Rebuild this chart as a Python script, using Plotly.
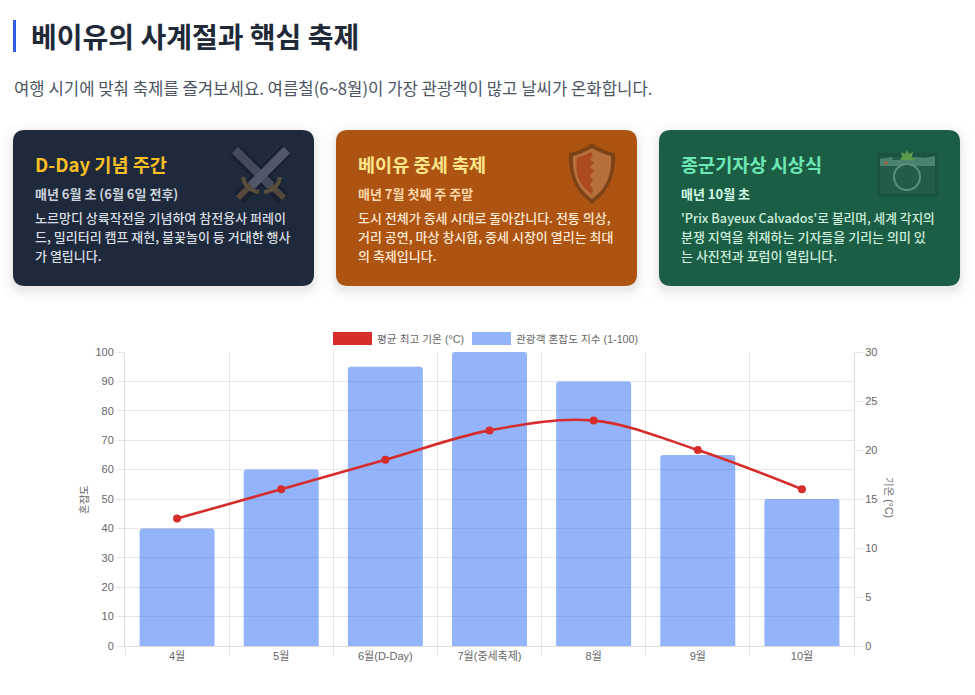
import plotly.graph_objects as go

# 차트 데이터
months = ['4월', '5월', '6월(D-Day)', '7월(중세축제)', '8월', '9월', '10월']
crowd = [40, 60, 95, 100, 90, 65, 50]
temps = [13, 16, 19, 22, 23, 20, 16]
crowd_ticks = [0, 10, 20, 30, 40, 50, 60, 70, 80, 90, 100]
temp_ticks = [0, 5, 10, 15, 20, 25, 30]
crowd_name = '관광객 혼잡도 지수 (1-100)'
temp_name = '평균 최고 기온 (°C)'

# 본문 텍스트
page_title = '베이유의 사계절과 핵심 축제'
page_sub = '여행 시기에 맞춰 축제를 즐겨보세요. 여름철(6~8월)이 가장 관광객이 많고 날씨가 온화합니다.'
card_titles = ['D-Day 기념 주간', '베이유 중세 축제', '종군기자상 시상식']
card_dates = ['매년 6월 초 (6월 6일 전후)', '매년 7월 첫째 주 주말', '매년 10월 초']
card_lines = [
    ['노르망디 상륙작전을 기념하여 참전용사 퍼레이', '드, 밀리터리 캠프 재현, 불꽃놀이 등 거대한 행사', '가 열립니다.'],
    ['도시 전체가 중세 시대로 돌아갑니다. 전통 의상,', '거리 공연, 마상 창시합, 중세 시장이 열리는 최대', '의 축제입니다.'],
    ["'Prix Bayeux Calvados'로 불리며, 세계 각지의", '분쟁 지역을 취재하는 기자들을 기리는 의미 있', '는 사진전과 포럼이 열립니다.'],
]
card_left = [13, 336, 659]
card_colors = ['#1e293b', '#ad5413', '#1c5e45']
title_colors = ['#fbbf24', '#fde68a', '#6ee7b7']
date_colors = ['#cdd2da', '#fed7aa', '#d1fae5']
body_colors = ['#d8dce3', '#fde8d0', '#cdeedd']

KR = 'Noto Sans CJK KR'
CHART = 'Liberation Sans, Noto Sans CJK KR'
BAR_COLOR = 'rgba(40,105,245,0.5)'

# 플롯 영역 (픽셀)
L, R, T, B = 125, 854, 352, 646


def px(x):
    return (x - L) / (R - L)


def py(y):
    return (B - y) / (B - T)


def pt(x, y):
    return f'{px(x):.5f},{py(y):.5f}'


def poly(points):
    return 'M' + ' L'.join(pt(x, y) for x, y in points) + ' Z'


def round_rect(x0, y0, x1, y1, r):
    return (f'M{pt(x0 + r, y0)} L{pt(x1 - r, y0)} Q{pt(x1, y0)} {pt(x1, y0 + r)} '
            f'L{pt(x1, y1 - r)} Q{pt(x1, y1)} {pt(x1 - r, y1)} '
            f'L{pt(x0 + r, y1)} Q{pt(x0, y1)} {pt(x0, y1 - r)} '
            f'L{pt(x0, y0 + r)} Q{pt(x0, y0)} {pt(x0 + r, y0)} Z')


shapes = []
notes = []


def path(d, fill, layer='below', line=None, width=0, opacity=1):
    shapes.append(dict(type='path', xref='paper', yref='paper', path=d, fillcolor=fill, layer=layer,
                       line=dict(color=line or 'rgba(0,0,0,0)', width=width), opacity=opacity))


def seg(x0, y0, x1, y1, color, width):
    shapes.append(dict(type='line', xref='paper', yref='paper', x0=px(x0), y0=py(y0), x1=px(x1), y1=py(y1),
                       layer='below', line=dict(color=color, width=width)))


def text(x, y, s, size, color, weight=400, anchor='left', angle=0, family=KR):
    notes.append(dict(xref='paper', yref='paper', x=px(x), y=py(y), text=s, showarrow=False, xanchor=anchor,
                      yanchor='middle', textangle=angle, borderpad=0,
                      font=dict(family=family, size=size, color=color, weight=weight)))


# 제목 부분
path(round_rect(13, 20, 16, 52, 0.1), '#2f5fe0')
text(30, 36, page_title, 28, '#1f2937', weight=700)
text(12.5, 88, page_sub, 16.7, '#4b5563')

# 카드와 그림자
for i, left in enumerate(card_left):
    for grow, alpha in [(12, 0.006), (9, 0.008), (6, 0.012), (4, 0.014), (2, 0.016), (1, 0.02)]:
        path(round_rect(left - grow, 130 + 4 - grow, left + 301 + grow, 286 + 4 + grow, 12 + grow),
             f'rgba(0,0,0,{alpha})')
    path(round_rect(left, 130, left + 301, 286, 12), card_colors[i])
    text(left + 21, 163, card_titles[i], 18.6, title_colors[i], weight=700)
    text(left + 21, 193, card_dates[i], 13, date_colors[i], weight=700)
    for n, row in enumerate(card_lines[i]):
        # 세번째 카드 첫줄은 라틴 문자가 많아서 조금 작게
        size = 12.7 if row.startswith("'Prix") else 13
        text(left + 21, 217 + n * 19, row, size, body_colors[i], weight=500)

# 칼 아이콘
for x0, y0, x1, y1 in [(235, 150, 283, 198), (287, 150, 239, 198)]:
    seg(x0, y0, x1, y1, '#182031', 14)
for x0, y0, x1, y1 in [(270, 185, 284, 198), (251, 185, 238, 198)]:
    seg(x0, y0, x1, y1, '#54483a', 6)
seg(235, 150, 271, 186, '#434a5a', 9)
seg(287, 150, 251, 186, '#515869', 9)
path(f'M{pt(243, 177)} Q{pt(245, 190)} {pt(259, 192)}', 'rgba(0,0,0,0)', line='#574f3c', width=4)
path(f'M{pt(280, 177)} Q{pt(278, 190)} {pt(264, 192)}', 'rgba(0,0,0,0)', line='#574f3c', width=4)

# 방패 아이콘
shield = (f'M{pt(592, 143)} Q{pt(581, 151)} {pt(569, 153)} Q{pt(567, 186)} {pt(592, 204)} '
          f'Q{pt(617, 186)} {pt(615, 153)} Q{pt(603, 151)} {pt(592, 143)} Z')
path(shield, '#7e4315')
inner = (f'M{pt(592, 148)} Q{pt(582, 154)} {pt(573, 156)} Q{pt(571, 184)} {pt(592, 199)} '
         f'Q{pt(613, 184)} {pt(611, 156)} Q{pt(602, 154)} {pt(592, 148)} Z')
path(inner, '#b5703c')
path(f'M{pt(591, 152)} L{pt(593, 155)} L{pt(590, 159)} L{pt(594, 163)} L{pt(590, 167)} L{pt(594, 171)} '
     f'L{pt(590, 176)} L{pt(593, 180)} L{pt(590, 185)} L{pt(593, 190)} L{pt(592, 194)} '
     f'Q{pt(573, 182)} {pt(577, 158)} Q{pt(585, 156)} {pt(591, 152)} Z', '#ab4a1e')

# 카메라 아이콘
path(round_rect(877, 153, 938, 197, 3), '#1a5340')
path(round_rect(880, 157, 935, 194, 1), '#225d49')
path(poly([(880, 166), (880, 159), (892, 157), (893, 160), (908, 160), (914, 157), (925, 158), (935, 156), (935, 166)]), '#4a8370')
path(poly([(907, 150), (909, 154), (913, 152), (912, 157), (915, 160), (900, 160), (902, 157), (901, 152), (905, 154)]), '#5c9a4e')
path(round_rect(884, 161, 888, 165, 1), '#8a6a55')
shapes.append(dict(type='circle', xref='paper', yref='paper', x0=px(894), x1=px(920), y0=py(190), y1=py(164),
                   layer='below', fillcolor='#225d49', line=dict(color='#5c8f7c', width=2)))

# 범례
path(round_rect(333, 332, 372, 345, 0.1), '#d62c2c', layer='above')
text(375.5, 338.5, temp_name, 10.7, '#666666', family=CHART)
path(round_rect(472, 332, 511, 345, 0.1), BAR_COLOR, layer='above')
text(514.5, 338.5, crowd_name, 10.7, '#666666', family=CHART)

# 축 제목
text(84, 500, '혼잡도', 10.5, '#666666', anchor='center', angle=-90, family=CHART)
text(889, 497, '기온 (°C)', 10.5, '#666666', anchor='center', angle=90, family=CHART)

fig = go.Figure()
fig.add_trace(go.Bar(x=months, y=crowd, name=crowd_name, yaxis='y', marker=dict(color=BAR_COLOR, cornerradius=3, line=dict(width=0)), showlegend=False))
fig.add_trace(go.Scatter(x=months, y=temps, name=temp_name, yaxis='y2', mode='lines+markers',
                         line=dict(color='#d62c2c', width=2.6, shape='spline', smoothing=1),
                         marker=dict(color='#d62c2c', size=8), showlegend=False))

tick_font = dict(family=CHART, size=11, color='#666666')
fig.update_layout(
    width=975, height=695, margin=dict(l=L, r=975 - R, t=T, b=695 - B, pad=0),
    paper_bgcolor='white', plot_bgcolor='white', bargap=0.28,
    shapes=shapes, annotations=notes, hovermode=False,
    xaxis=dict(range=[-0.5, 6.5], tickson='boundaries', ticks='outside', ticklen=8, tickcolor='#e6e6e6',
               showgrid=True, gridcolor='#e6e6e6', showline=True, linecolor='#dddddd', tickfont=tick_font),
    yaxis=dict(range=[0, 100], tickvals=crowd_ticks, ticks='outside', ticklen=8, tickcolor='#e6e6e6',
               showgrid=True, gridcolor='#e6e6e6', showline=True, linecolor='#dddddd', zeroline=False, tickfont=tick_font),
    yaxis2=dict(range=[0, 30], tickvals=temp_ticks, overlaying='y', side='right', ticks='outside', ticklen=8,
                tickcolor='#e6e6e6', showgrid=False, showline=True, linecolor='#dddddd', zeroline=False, tickfont=tick_font),
)

fig.write_html('out.html', post_script="document.body.style.margin='0';document.body.style.overflow='hidden';",
               config=dict(displayModeBar=False))
